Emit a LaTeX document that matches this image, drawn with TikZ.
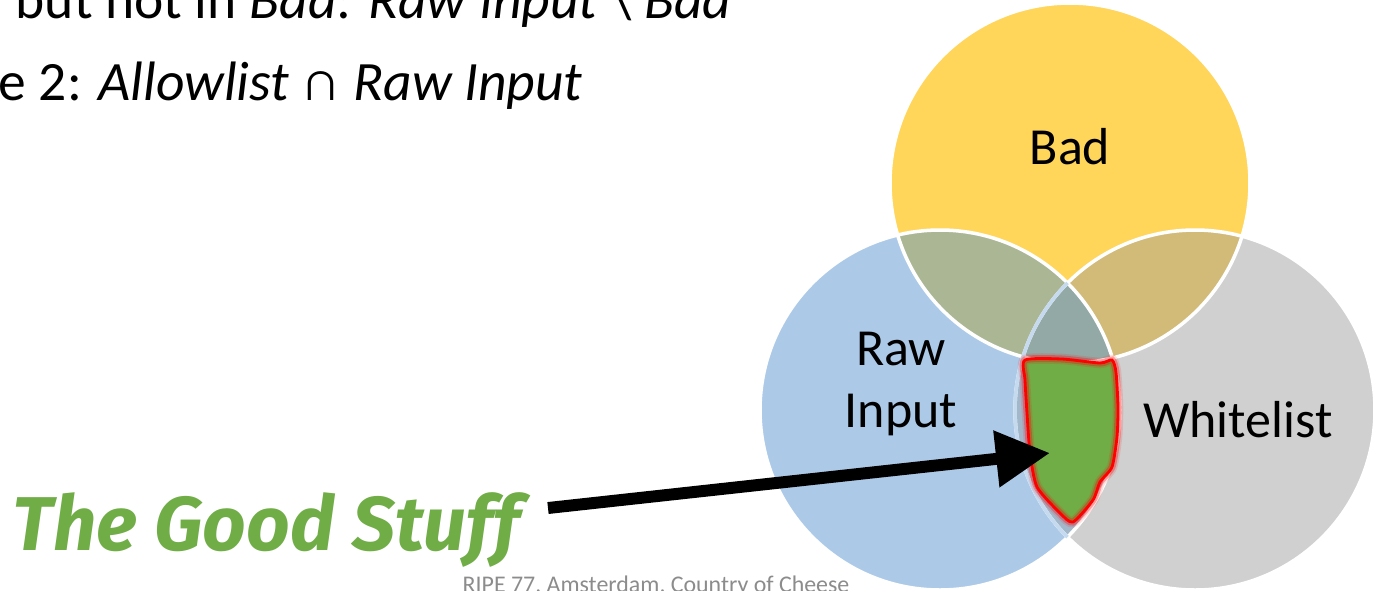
\documentclass[tikz,border=0pt]{standalone}
\usepackage{fontspec}
\setmainfont{Carlito}
\newfontfamily\handfont{Fira Sans}
\usetikzlibrary{arrows.meta}

\definecolor{badyellow}{HTML}{FFD55A}
\definecolor{rawblue}{HTML}{ACCAE8}
\definecolor{whitegray}{HTML}{D0D0D0}
\definecolor{badraw}{HTML}{ABB794}
\definecolor{badwhite}{HTML}{D2BB78}
\definecolor{allthree}{HTML}{93A9A6}
\definecolor{rawwhite}{HTML}{A3B7CB}
\definecolor{goodgreen}{HTML}{70AD47}
\definecolor{footgray}{HTML}{8C8C8C}

\tikzset{
  setlabel/.style={font=\fontsize{14.8}{17.6}\selectfont, align=center, inner sep=0pt},
  slidetext/.style={font=\fontsize{15.8}{19}\selectfont, anchor=base west, inner sep=0pt},
}

\begin{document}
\begin{tikzpicture}[x=0.1mm, y=-0.1mm]
\useasboundingbox (0,0) rectangle (1375,590);

% the three sets
\fill[whitegray] (1195,410) circle[radius=1.8cm];
\fill[rawblue] (940,410) circle[radius=1.8cm];
\fill[badyellow] (1070,183) circle[radius=1.8cm];

% overlaps
\begin{scope}
\clip (940,410) circle[radius=1.8cm];
\fill[badraw] (1070,183) circle[radius=1.8cm];
\fill[rawwhite] (1195,410) circle[radius=1.8cm];
\end{scope}
\begin{scope}
\clip (1195,410) circle[radius=1.8cm];
\fill[badwhite] (1070,183) circle[radius=1.8cm];
\clip (940,410) circle[radius=1.8cm];
\fill[allthree] (1070,183) circle[radius=1.8cm];
\end{scope}

\draw[white, line width=1pt] (1195,410) circle[radius=1.8cm];
\draw[white, line width=1pt] (940,410) circle[radius=1.8cm];
\draw[white, line width=1pt] (1070,183) circle[radius=1.8cm];
\begin{scope}
\clip (940,410) circle[radius=1.8cm];
\draw[rawblue!70!white, line width=1pt] (1195,410) circle[radius=1.8cm];
\end{scope}

% the good part, with a red glow
\fill[goodgreen] plot[smooth cycle, tension=0.4] coordinates {(1025,360) (1062,359) (1100,363) (1112,360) (1116,372) (1118,407) (1117,437) (1112,467) (1100,482) (1093,500) (1073,522) (1060,513) (1037,487) (1030,453) (1027,413) (1025,380)};
\foreach \w/\o in {3pt/0.12, 2pt/0.3, 0.8pt/1} {
  \draw[red, line width=\w, opacity=\o] plot[smooth cycle, tension=0.4] coordinates {(1025,360) (1062,359) (1100,363) (1112,360) (1116,372) (1118,407) (1117,437) (1112,467) (1100,482) (1093,500) (1073,522) (1060,513) (1037,487) (1030,453) (1027,413) (1025,380)};
}

% labels
\node[setlabel, anchor=base] (badlabel) at (1070,164) {Bad};
\node[setlabel] (rawlabel) at (901,384) {Raw\\Input};
\node[setlabel, anchor=base] (whitelabel) at (1238,437) {Whitelist};

% slide text
\node[slidetext] (ruleone) at (15,18) {but not in \textit{Bad}: \textit{Raw Input} \textbackslash{} \textit{Bad}};
\node[slidetext] (ruletwo) at (-2,100) {e 2: \textit{Allowlist} ∩ \textit{Raw Input}};

\node[anchor=base west, inner sep=0pt, text=goodgreen, font=\handfont\bfseries\itshape\fontsize{21.7}{26}\selectfont] (goodstuff) at (12,550) {The Good Stuff};
\node[anchor=base west, inner sep=0pt, text=footgray, font=\fontsize{6.8}{8}\selectfont] (footer) at (462,592) {RIPE 77, Amsterdam, Country of Cheese};

% arrow
\coordinate (tail) at (548,508);
\coordinate (tip) at (1050,453);
\draw[line width=3.4pt, -{Triangle[length=5.4mm, width=5.4mm]}] (tail) -- (tip);
\end{tikzpicture}
\end{document}
